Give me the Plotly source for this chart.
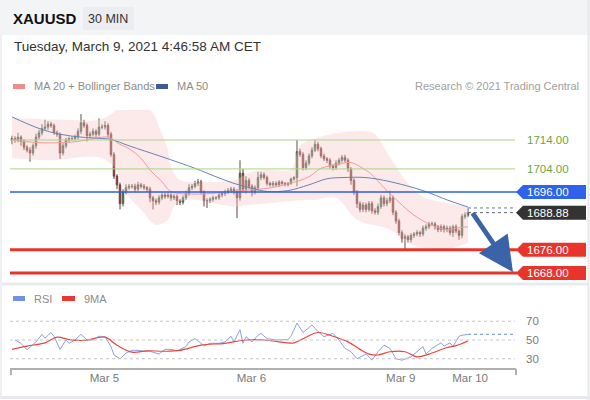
import plotly.graph_objects as go

# XAUUSD 30 min candles, candle index 0..152 (last one is the live bar)
closes = [
    1714.5, 1714.0, 1715.0, 1713.5, 1711.5, 1710.5, 1709.5, 1712.0, 1715.0, 1716.5,
    1718.0, 1718.5, 1719.5, 1719.0, 1716.5, 1716.0, 1709.5, 1712.0, 1714.0, 1714.5,
    1714.5, 1715.0, 1717.0, 1720.0, 1719.0, 1715.5, 1716.0, 1717.0, 1716.0, 1718.5,
    1718.5, 1719.0, 1716.0, 1709.0, 1701.5, 1698.5, 1692.0, 1696.0, 1697.5, 1698.0,
    1698.0, 1697.0, 1698.5, 1698.0, 1697.5, 1697.0, 1694.0, 1693.0, 1692.5, 1694.0,
    1695.0, 1694.5, 1695.0, 1694.0, 1694.5, 1693.0, 1692.5, 1694.0, 1695.5, 1697.5,
    1698.0, 1699.0, 1699.5, 1696.0, 1693.0, 1693.0, 1693.5, 1694.0, 1694.0, 1695.0,
    1695.5, 1696.0, 1696.5, 1697.0, 1696.0, 1694.0, 1702.5, 1697.0, 1700.0, 1698.0,
    1696.0, 1697.5, 1701.0, 1702.0, 1701.0, 1699.0, 1698.5, 1699.0, 1698.5, 1699.5,
    1699.0, 1698.5, 1699.0, 1700.5, 1701.0, 1710.0, 1709.0, 1704.5, 1706.0, 1708.5,
    1710.5, 1712.5, 1711.0, 1708.5, 1707.5, 1707.0, 1705.0, 1704.5, 1706.0, 1707.0,
    1708.0, 1707.0, 1704.0, 1700.0, 1696.0, 1692.0, 1690.0, 1691.5, 1690.0, 1692.0,
    1689.5, 1689.0, 1691.0, 1694.0, 1692.0, 1693.0, 1694.0, 1689.0, 1686.0, 1682.0,
    1680.0, 1680.5, 1679.5, 1681.0, 1681.5, 1682.0, 1681.5, 1683.5, 1684.0, 1685.0,
    1685.0, 1684.0, 1683.0, 1684.0, 1683.0, 1683.5, 1682.0, 1684.0, 1682.5, 1681.0,
    1687.5, 1688.0, 1688.88,
]
first_open = 1714.0
wick_up = [
    1.0, 0.8, 1.5, 0.6, 0.8, 0.7, 1.0, 0.8, 1.2, 1.0,
    1.5, 2.5, 1.0, 0.8, 0.7, 0.8, 0.6, 0.9, 0.8, 0.7,
    0.8, 0.9, 1.0, 3.0, 1.0, 0.8, 0.9, 1.0, 0.7, 3.0,
    1.0, 1.5, 0.8, 0.8, 0.8, 0.7, 0.8, 1.0, 1.2, 0.8,
    0.8, 0.9, 1.0, 0.7, 0.8, 0.6, 0.8, 0.7, 0.8, 0.9,
    0.8, 0.7, 0.9, 0.6, 0.8, 0.7, 0.6, 0.8, 1.0, 1.2,
    0.8, 0.9, 1.0, 0.7, 0.6, 0.8, 0.7, 0.8, 0.6, 0.8,
    0.7, 0.8, 0.9, 0.8, 0.7, 1.0, 4.5, 1.5, 1.5, 0.8,
    0.7, 0.8, 2.0, 1.0, 0.8, 0.7, 0.6, 0.8, 0.7, 0.6,
    0.5, 0.5, 0.5, 0.5, 0.5, 4.0, 1.0, 0.8, 1.0, 0.9,
    1.0, 1.5, 0.8, 0.7, 0.8, 0.6, 0.8, 0.7, 1.0, 0.8,
    0.8, 0.9, 0.7, 0.6, 0.8, 0.7, 0.8, 1.0, 0.8, 0.9,
    0.8, 0.9, 1.0, 1.0, 0.8, 1.0, 2.5, 0.8, 0.7, 0.8,
    0.8, 0.9, 0.7, 0.8, 0.7, 0.8, 0.6, 0.9, 0.8, 0.7,
    0.8, 0.7, 0.6, 0.8, 0.7, 0.9, 0.8, 0.7, 0.8, 0.6,
    0.9, 1.0, 1.5,
]
wick_down = [
    1.5, 1.0, 0.8, 1.5, 1.0, 0.8, 3.0, 0.9, 1.0, 0.8,
    0.9, 0.8, 1.0, 0.8, 0.7, 0.9, 2.0, 0.8, 0.9, 0.7,
    0.8, 0.7, 0.9, 1.0, 0.8, 2.0, 0.9, 0.8, 1.0, 0.8,
    0.8, 0.9, 1.0, 0.8, 1.0, 1.5, 2.0, 1.0, 0.8, 0.7,
    0.8, 0.9, 0.7, 0.8, 0.8, 1.0, 1.5, 3.0, 1.0, 0.8,
    0.8, 0.9, 0.7, 1.0, 0.8, 1.5, 1.0, 0.8, 0.7, 0.8,
    0.8, 0.7, 0.9, 0.8, 2.0, 2.5, 0.8, 0.9, 0.8, 0.7,
    0.8, 0.9, 0.7, 0.8, 0.9, 7.0, 1.0, 1.0, 1.5, 1.0,
    1.5, 0.8, 1.0, 0.9, 0.7, 0.8, 0.6, 0.7, 0.6, 0.7,
    0.5, 0.5, 0.5, 0.5, 0.5, 3.0, 0.8, 1.0, 0.9, 0.8,
    0.8, 0.7, 0.9, 0.8, 0.8, 1.0, 0.9, 1.0, 0.8, 0.8,
    0.8, 0.9, 1.0, 1.5, 1.0, 1.5, 1.0, 0.9, 1.0, 0.8,
    1.0, 0.8, 0.9, 0.8, 1.0, 0.9, 0.8, 1.0, 1.0, 1.0,
    1.5, 4.0, 1.0, 1.0, 0.9, 0.8, 1.0, 0.8, 0.9, 0.8,
    0.8, 1.0, 0.9, 0.8, 1.0, 0.9, 1.0, 1.5, 0.8, 1.5,
    1.0, 0.8, 0.7,
]

# indicators (candle index, value)
ma50_x = [0, 9, 16, 23, 29, 33, 39, 50, 61, 68, 74, 80, 85, 92, 99, 105, 110, 118, 126, 137, 145, 152]
ma50_y = [1722, 1718, 1716, 1715, 1714.6, 1714.2, 1712, 1708.2, 1704.2, 1701.3, 1699, 1697.3,
          1696.2, 1696.5, 1698.5, 1700.6, 1701, 1701, 1699.6, 1696.5, 1693.3, 1690.8]
ma20_x = [0, 5, 12, 21, 28, 32, 36, 39, 43, 46, 50, 53, 61, 72, 80, 85, 92, 99, 103, 109,
          113, 118, 120, 124, 129, 134, 140, 145, 148, 152]
ma20_y = [1714, 1713.4, 1713, 1713.4, 1714.6, 1715, 1712.5, 1711, 1707.7, 1703.6, 1699.6, 1696.2,
          1695.3, 1696, 1696.8, 1697.3, 1698.8, 1701.3, 1704.2, 1705.6, 1706.2, 1703.5, 1702,
          1697.5, 1692.5, 1688, 1684.5, 1683, 1683.5, 1684]
bb_up_x = [0, 18, 29, 34, 37, 43, 47, 49, 52, 53, 56, 63, 74, 80, 85, 93, 96, 101, 109, 118,
           121, 126, 132, 137, 143, 152]
bb_up_y = [1721.6, 1721, 1721, 1723.7, 1726.8, 1726.8, 1723.3, 1718.5, 1710.5, 1704.7, 1700.2,
           1699.5, 1700.2, 1703, 1703.7, 1704, 1712, 1714.5, 1716.5, 1717, 1716, 1708, 1699,
           1694.3, 1692.6, 1691]
bb_lo_x = [0, 13, 29, 34, 38, 43, 48, 52, 54, 58, 74, 80, 94, 101, 108, 115, 126, 132, 137, 146, 152]
bb_lo_y = [1707.8, 1707, 1708, 1704.7, 1695.7, 1690, 1684.7, 1686.4, 1691, 1693.3, 1691, 1691.6,
           1693, 1693.3, 1694, 1686.4, 1683, 1678.5, 1676.8, 1676.5, 1678.5]

rsi_x = [1, 3, 5, 8, 10, 11, 13, 14, 16, 18, 19, 21, 23, 25, 27, 29, 31, 33, 34, 36, 38, 40,
         42, 44, 46, 49, 51, 53, 55, 58, 59, 61, 63, 64, 66, 69, 71, 73, 74, 76, 77, 78, 80,
         82, 83, 85, 88, 92, 93, 95, 97, 100, 102, 104, 107, 109, 111, 113, 115, 118, 120,
         122, 124, 126, 128, 130, 133, 135, 137, 138, 140, 143, 144, 146, 147, 149, 150, 152]
rsi_y = [50, 46.5, 39.5, 48, 56, 52, 58, 54, 40, 50, 46.5, 50, 56, 50, 50, 54, 53.5, 43, 34,
         30, 36, 39, 39, 38, 38, 35, 40, 40, 38.5, 43, 48, 51.5, 46.5, 43.5, 46.5, 46.5, 48,
         54, 48, 61, 46.5, 53.5, 48, 55, 57, 51.5, 50, 50.5, 54, 68, 58, 66, 59, 53.5, 57, 50,
         41, 37.5, 30, 35, 28.5, 37.5, 44.5, 41, 30, 28.5, 32, 37.5, 43, 35, 41, 47, 43.5,
         47, 43, 54, 55, 56]
rsi_ma_x = [0, 5, 11, 15, 19, 24, 31, 35, 40, 45, 51, 56, 63, 71, 78, 84, 89, 94, 98, 102,
            107, 112, 116, 119, 122, 126, 131, 135, 139, 145, 148, 152]
rsi_ma_y = [40, 43.5, 47, 53, 50.5, 49.5, 53, 44.5, 37, 38.5, 38, 39, 44.5, 46.5, 50, 50, 48,
            47, 53, 58, 54, 48, 40, 35, 34, 37.5, 37.5, 32, 35, 42, 44, 49]

# key levels
supports = [1676.00, 1668.00]
resistances = [1714.00, 1704.00]
pivot = 1696.00
last_price = 1688.88
ma50_last = 1690.5
target = 1668.3

date_labels = ["Mar 5", "Mar 6", "Mar 9", "Mar 10"]
date_pos = [30.8, 79.8, 129.6, 152.7]

W, H = 590, 400


def px(x):
    return x / W


def py(y):
    return 1 - y / H


idx = list(range(len(closes)))
opens = [first_open] + closes[:-1]
highs = [max(o, c) + u for o, c, u in zip(opens, closes, wick_up)]
lows = [min(o, c) - d for o, c, d in zip(opens, closes, wick_down)]

fig = go.Figure()

# Bollinger band fill
fig.add_trace(go.Scatter(x=bb_up_x, y=bb_up_y, mode="lines", line=dict(width=0, shape="spline"),
                         hoverinfo="skip"))
fig.add_trace(go.Scatter(x=bb_lo_x, y=bb_lo_y, mode="lines", line=dict(width=0, shape="spline"),
                         fill="tonexty", fillcolor="rgba(248,200,200,0.38)", hoverinfo="skip"))
fig.add_trace(go.Scatter(x=ma20_x, y=ma20_y, mode="lines",
                         line=dict(color="#f39a9a", width=1, shape="spline")))
fig.add_trace(go.Scatter(x=ma50_x, y=ma50_y, mode="lines",
                         line=dict(color="#6a82b4", width=1, shape="spline")))

fig.add_trace(go.Candlestick(
    x=idx, open=opens, high=highs, low=lows, close=closes,
    increasing=dict(fillcolor="#3a8a26", line=dict(color="#4d5a48", width=1)),
    decreasing=dict(fillcolor="#d42a20", line=dict(color="#6a3c3a", width=1)),
    whiskerwidth=0,
))

# RSI panel
fig.add_trace(go.Scatter(x=rsi_x, y=rsi_y, mode="lines", xaxis="x2", yaxis="y2",
                         line=dict(color="#8aa0e6", width=1)))
fig.add_trace(go.Scatter(x=rsi_ma_x, y=rsi_ma_y, mode="lines", xaxis="x2", yaxis="y2",
                         line=dict(color="#e8463e", width=1.2, shape="spline")))
fig.add_trace(go.Scatter(x=[rsi_x[-1], 167], y=[rsi_y[-1], rsi_y[-1]], mode="lines",
                         xaxis="x2", yaxis="y2", line=dict(color="#8aa0e6", width=1.2, dash="dot")))

x_range = [-0.667, 167.67]
shapes = []
# card background pieces
shapes.append(dict(type="rect", xref="paper", yref="paper", x0=0, x1=1, y0=py(35), y1=1,
                   fillcolor="#f3f4f6", line_width=0, layer="below"))
shapes.append(dict(type="rect", xref="paper", yref="paper", x0=px(82), x1=px(135), y0=py(31),
                   y1=py(6), fillcolor="#ebedf0", line=dict(color="#f7f8fa", width=1), layer="below"))
shapes.append(dict(type="line", xref="paper", yref="paper", x0=0, x1=px(588), y0=py(284),
                   y1=py(284), line=dict(color="#e9ebee", width=3)))
shapes.append(dict(type="line", xref="paper", yref="paper", x0=px(588.5), x1=px(588.5), y0=0,
                   y1=1, line=dict(color="#e6e8eb", width=2)))
shapes.append(dict(type="line", xref="paper", yref="paper", x0=0, x1=1, y0=py(397.5),
                   y1=py(397.5), line=dict(color="#e6e8eb", width=3)))
shapes.append(dict(type="line", xref="paper", yref="paper", x0=px(1), x1=px(1), y0=py(397),
                   y1=py(35), line=dict(color="#eef0f3", width=2)))

# horizontal levels
for lv in resistances:
    shapes.append(dict(type="line", xref="paper", yref="y", x0=px(10), x1=px(515), y0=lv, y1=lv,
                       line=dict(color="#a9d58a", width=1)))
shapes.append(dict(type="line", xref="paper", yref="y", x0=px(10), x1=px(517), y0=pivot, y1=pivot,
                   line=dict(color="#2a5ef0", width=1.5)))
for lv in supports:
    shapes.append(dict(type="line", xref="paper", yref="y", x0=px(10), x1=px(517), y0=lv, y1=lv,
                       line=dict(color="#e8342b", width=3)))
shapes.append(dict(type="line", xref="x", yref="y", x0=152, x1=x_range[1], y0=ma50_last,
                   y1=ma50_last, line=dict(color="#5a78b8", width=1, dash="dot")))
shapes.append(dict(type="line", xref="x", yref="y", x0=152, x1=x_range[1], y0=last_price,
                   y1=last_price, line=dict(color="#666666", width=1, dash="dot")))

# label tags with pointed left edge
l0, l1, l2 = px(516), px(523), px(586)
tag_path = f"M{l0},0 L{l1},7 L{l2},7 L{l2},-7 L{l1},-7 Z"
for lv, col in [(pivot, "#2f63ea"), (last_price, "#333333"), (supports[0], "#e8352b"),
                (supports[1], "#e8352b")]:
    shapes.append(dict(type="path", xref="paper", yref="y", ysizemode="pixel", yanchor=lv,
                       path=tag_path, fillcolor=col, line_width=0))

# RSI dotted guides and axis end ticks
for lv in [70, 50, 30]:
    shapes.append(dict(type="line", xref="paper", yref="y2", x0=px(10), x1=px(515), y0=lv, y1=lv,
                       line=dict(color="#c4c4c4", width=1, dash="dot")))
for xe in [11, 516]:
    shapes.append(dict(type="line", xref="paper", yref="paper", x0=px(xe), x1=px(xe), y0=py(369),
                       y1=py(375), line=dict(color="#b0b0b0", width=2)))

# legend swatches
for x0, x1, y0, y1, col in [(13, 25, 84, 89, "#f08c8c"), (156, 168, 84, 89, "#3e5c9c"),
                            (13, 25, 296, 301, "#7390e2"), (62, 75, 296, 301, "#e8382f")]:
    shapes.append(dict(type="rect", xref="paper", yref="paper", x0=px(x0), x1=px(x1), y0=py(y1),
                       y1=py(y0), fillcolor=col, line_width=0))

FONT = "Liberation Sans, Arial, sans-serif"
ann = []


def text(x, y, s, size=11, color="#999999", anchor="left", bold=False):
    ann.append(dict(xref="paper", yref="paper", x=px(x), y=py(y), text=f"<b>{s}</b>" if bold else s,
                    showarrow=False, xanchor=anchor, yanchor="middle",
                    font=dict(family=FONT, size=size, color=color)))


text(11, 18, "XAUUSD", 15, "#111111", bold=True)
text(108.5, 18.5, "30 MIN", 12.5, "#333333", anchor="center")
text(12, 47, "Tuesday, March 9, 2021 4:46:58 AM CET", 13.5, "#333333")
text(32, 86, "MA 20 + Bollinger Bands", 11, "#8c8c8c")
text(175, 86, "MA 50", 11, "#8c8c8c")
text(581, 86, "Research © 2021 Trading Central", 11, "#a0a0a0", anchor="right")
text(32, 298.5, "RSI", 11, "#8c8c8c")
text(82, 298.5, "9MA", 11, "#8c8c8c")

for lv, col in [(resistances[0], "#6aa63f"), (resistances[1], "#6aa63f"), (pivot, "white"),
                (last_price, "white"), (supports[0], "white"), (supports[1], "white")]:
    ann.append(dict(xref="paper", yref="y", x=px(525), y=lv, text=f"{lv:.2f}", showarrow=False,
                    xanchor="left", yanchor="middle", font=dict(family=FONT, size=11.5, color=col)))

# projected move arrow
ann.append(dict(xref="x", yref="y", x=167.0, y=target, axref="x", ayref="y", ax=153.2, ay=1689.2,
                text="", showarrow=True, arrowhead=2, arrowsize=1.45, arrowwidth=4.8,
                arrowcolor="#3b64a8"))

fig.update_layout(
    width=W, height=H,
    margin=dict(l=0, r=0, t=0, b=0),
    paper_bgcolor="white", plot_bgcolor="white",
    showlegend=False,
    shapes=shapes, annotations=ann,
    xaxis=dict(domain=[px(10), px(515)], range=x_range, showticklabels=False, showgrid=False,
               zeroline=False, rangeslider=dict(visible=False), fixedrange=True),
    yaxis=dict(domain=[py(280), py(110)], range=[1665.58, 1724.38], showticklabels=False,
               showgrid=False, zeroline=False),
    xaxis2=dict(domain=[px(10), px(515)], range=x_range, anchor="y2", matches="x",
                tickvals=date_pos, ticktext=date_labels, showgrid=False, zeroline=False,
                showline=False, ticks="", tickfont=dict(family=FONT, size=11.5, color="#7a7a7a")),
    yaxis2=dict(domain=[py(369), py(305)], range=[19.1, 87.3], side="right", anchor="x2",
                tickvals=[30, 50, 70], showgrid=False, zeroline=False, ticks="",
                ticklabelstandoff=10, tickfont=dict(family=FONT, size=11.5, color="#7a7a7a")),
)
fig.add_shape(type="line", xref="paper", yref="paper", x0=px(10), x1=px(516), y0=py(369),
              y1=py(369), line=dict(color="#b0b0b0", width=2))

# drop the default page margin so the 590x400 figure fills the window
fig.write_html("out.html", config={"displayModeBar": False},
               post_script="document.body.style.margin='0';")
